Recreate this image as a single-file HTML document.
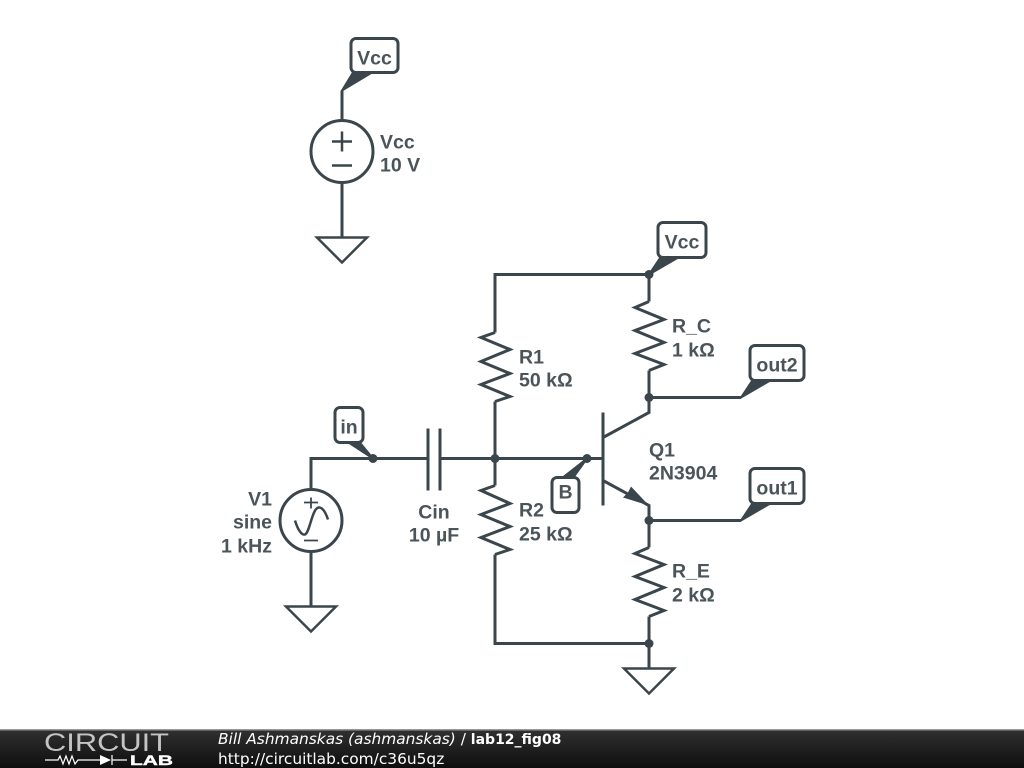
<!DOCTYPE html>
<html><head><meta charset="utf-8"><style>
html,body{margin:0;padding:0;background:#fff;width:1024px;height:768px;overflow:hidden}
svg{display:block}
.w{fill:none;stroke:#3b464c;stroke-width:3;stroke-linejoin:miter}
.f{fill:#3b464c}
.b{fill:#fff;stroke:#3b464c;stroke-width:3}
.t{font-family:"Liberation Sans",sans-serif;font-size:19.5px;font-weight:bold;fill:#4a5459}
.d{font-family:"DejaVu Sans",sans-serif;font-size:15.4px;fill:#fff}
</style></head><body>
<svg width="1024" height="768" viewBox="0 0 1024 768" xmlns="http://www.w3.org/2000/svg">
<defs><linearGradient id="g" x1="0" y1="0" x2="0" y2="1"><stop offset="0" stop-color="#303030"/><stop offset="1" stop-color="#0e0e0e"/></linearGradient></defs>
<rect width="1024" height="768" fill="#fff"/>
<g transform="translate(0 .5)">
<!-- Vcc source -->
<path class="w" d="M342 90V120M342 182V237"/>
<circle class="w" cx="342" cy="151" r="31"/>
<path class="w" d="M332 141H352M342 131V151M332 165H352" style="stroke-width:2.5"/>
<path class="w" d="M317 237H367L342 262Z" style="stroke-width:2.5"/>
<!-- wires -->
<path class="w" d="M495 332V274H649V301M649 370V412L603 437M495 401V485M495 554V643H649V668M649 616V643M649 547V505L603 480M603 412V505M603 458H440M428 458H311V489M428 428V490M440 428V490M311 551V606M649 397H741M649 520H741"/>
<!-- resistors -->
<path class="w" d="M495 332L481 337L510 349L481 361L510 373L481 384L510 396L495 401"/>
<path class="w" d="M649 301L635 307L664 319L635 330L664 342L635 353L664 364L649 370"/>
<path class="w" d="M495 485L481 490L510 503L481 514L510 526L481 537L510 549L495 554"/>
<path class="w" d="M649 547L635 553L664 564L635 576L664 587L635 599L664 610L649 616"/>
<!-- grounds -->
<path class="w" d="M286 606H336L311 631Z" style="stroke-width:2.5"/>
<path class="w" d="M624 668H674L649 693Z" style="stroke-width:2.5"/>
<!-- V1 -->
<circle class="w" cx="311" cy="520" r="31"/>
<path class="w" d="M304 502H318M311 497V508M304 540H318" style="stroke-width:1.8"/>
<path class="w" d="M295 520C298 530 302 535 305 534C310 532 312 507 319 507C323 507 326 513 328 519" style="stroke-width:2.5"/>
<!-- arrow -->
<path class="f" d="M649 505L623 497L628 492L631 486Z"/>
<!-- dots -->
<g class="f"><circle cx="373" cy="458" r="4.500"/><circle cx="495" cy="458" r="4.500"/><circle cx="587" cy="458" r="4.500"/><circle cx="649" cy="274" r="4.500"/><circle cx="649" cy="397" r="4.500"/><circle cx="649" cy="520" r="4.500"/><circle cx="649" cy="643" r="4.500"/></g>
<!-- flag tails -->
<g class="f" stroke="#3b464c" stroke-width="2" stroke-linejoin="round">
<path d="M342 90L353 72H372Z"/>
<path d="M649 274L661 256H680Z"/>
<path d="M741 397L753 379H772Z"/>
<path d="M741 520L753 502H772Z"/>
<path d="M373 458L347 441H359Z"/>
<path d="M587 458L564 476H574Z"/>
</g>
<!-- flags -->
<rect class="b" x="351" y="38" width="47" height="34" rx="5"/>
<rect class="b" x="658" y="222" width="48" height="35" rx="5"/>
<rect class="b" x="750" y="345" width="54" height="35" rx="5"/>
<rect class="b" x="750" y="468" width="54" height="35" rx="5"/>
<rect class="b" x="335" y="407" width="28" height="35" rx="5"/>
<rect class="b" x="552" y="477" width="27" height="35" rx="5"/>
<g class="t" text-anchor="middle">
<text x="374.500" y="64">Vcc</text>
<text x="682" y="248">Vcc</text>
<text x="777" y="371">out2</text>
<text x="777" y="494">out1</text>
<text x="349" y="433">in</text>
<text x="565.500" y="498">B</text>
<text x="434" y="518">Cin</text>
<text x="434" y="541">10 µF</text>
</g>
<g class="t">
<text x="380" y="148">Vcc</text>
<text x="380" y="171">10 V</text>
<text x="519" y="363">R1</text>
<text x="519" y="386">50 kΩ</text>
<text x="519" y="516">R2</text>
<text x="519" y="540">25 kΩ</text>
<text x="672" y="332">R_C</text>
<text x="672" y="356">1 kΩ</text>
<text x="672" y="577">R_E</text>
<text x="672" y="601">2 kΩ</text>
<text x="649" y="456">Q1</text>
<text x="649" y="479">2N3904</text>
</g>
<g class="t" text-anchor="end">
<text x="272" y="505">V1</text>
<text x="272" y="528">sine</text>
<text x="272" y="552">1 kHz</text>
</g>
</g>
<!-- footer -->
<rect x="0" y="730" width="1024" height="38" fill="url(#g)"/>
<rect x="0" y="729" width="1024" height="1.500" fill="#999"/>
<text x="44" y="751" font-family="Liberation Sans, sans-serif" font-size="25" fill="#c4c4c4" textLength="125" lengthAdjust="spacingAndGlyphs">CIRCUIT</text>
<path d="M45 760H58L60 756L63 764L66 756L69 764L72 756L75 764L78 760L85 760H100M112 760H127M112 755V765" fill="none" stroke="#fff" stroke-width="1.200"/>
<path d="M100 755L111 760L100 765Z" fill="#fff"/>
<text x="130" y="765" font-family="Liberation Sans, sans-serif" font-weight="bold" font-size="14" fill="#fff" stroke="#fff" stroke-width=".4" textLength="43" lengthAdjust="spacingAndGlyphs">LAB</text>
<text class="d" x="218" y="744"><tspan font-style="italic">Bill Ashmanskas (ashmanskas)</tspan> / <tspan font-weight="bold" font-size="14">lab12_fig08</tspan></text>
<text class="d" x="218" y="764">http://circuitlab.com/c36u5qz</text>
</svg>
</body></html>
